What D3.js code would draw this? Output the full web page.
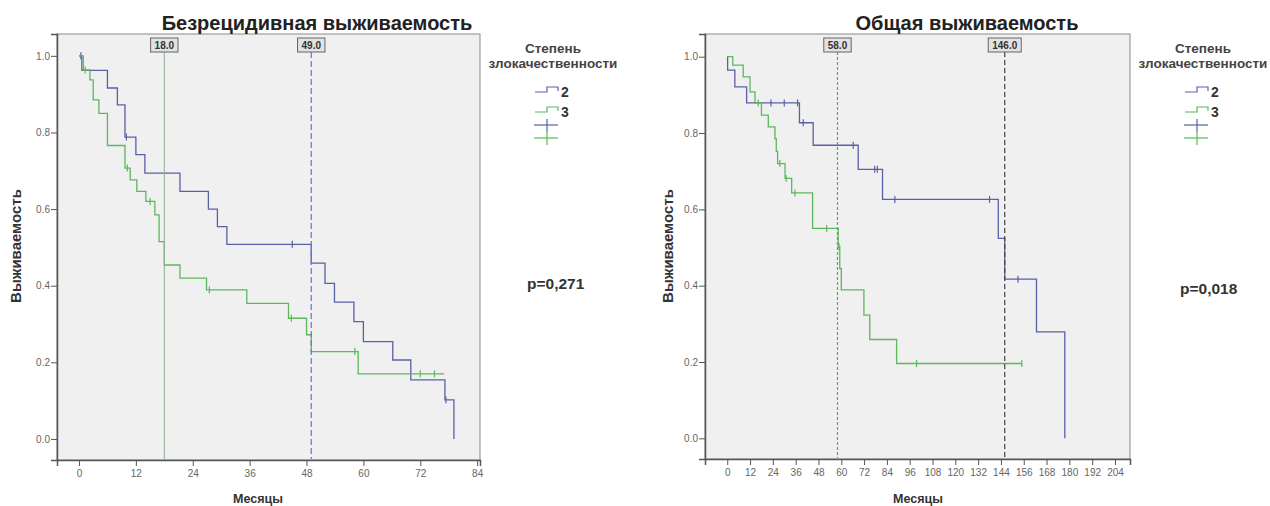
<!DOCTYPE html>
<html><head><meta charset="utf-8">
<script src="https://cdn.jsdelivr.net/npm/d3@7"></script>
<style>
html,body{margin:0;padding:0;background:#fff;}
svg{display:block;font-family:"Liberation Sans",Arial,sans-serif;}
</style></head>
<body><svg id="c" width="1270" height="506"></svg>
<script>
// ---------- DATA ----------
const titles = ["Безрецидивная выживаемость", "Общая выживаемость"];
const legendTitle = ["Степень", "злокачественности"];
const groups = ["2", "3"];
const pValues = ["p=0,271", "p=0,018"];
const xLabel = "Месяцы";
const yLabel = "Выживаемость";
const yTicks = [0, 0.2, 0.4, 0.6, 0.8, 1.0];
const xTicksRFS = [0, 12, 24, 36, 48, 60, 72, 84];
const xTicksOS = [0, 12, 24, 36, 48, 60, 72, 84, 96, 108, 120, 132, 144, 156, 168, 180, 192, 204];

// Recurrence-free survival, grade 2
const rfs2Times = [0, 0.6, 6, 8.1, 9.7, 12, 13.9, 21.3, 27.3, 29.2, 31.2, 49, 51.9, 53.9, 58, 60, 66.2, 70, 77.2, 79.1];
const rfs2Surv  = [1, 0.962, 0.916, 0.872, 0.788, 0.742, 0.694, 0.646, 0.600, 0.554, 0.508, 0.459, 0.406, 0.357, 0.306, 0.254, 0.206, 0.154, 0.102, 0];
const rfs2Censor = [0.4, 10, 45, 77.4];
const rfs2End = 79.1;
// Recurrence-free survival, grade 3
const rfs3Times = [0, 0.9, 2.3, 3, 4.2, 6, 9.7, 10.8, 12.2, 14.1, 16, 16.9, 18, 21.3, 26.9, 35.4, 44.2, 48, 49, 58.9];
const rfs3Surv  = [1, 0.963, 0.937, 0.885, 0.850, 0.766, 0.707, 0.676, 0.646, 0.620, 0.585, 0.515, 0.454, 0.420, 0.389, 0.354, 0.315, 0.272, 0.228, 0.170];
const rfs3Censor = [1.3, 10.2, 15, 27.5, 44.8, 58.2, 72, 75];
const rfs3End = 77;
// Overall survival, grade 2
const os2Times = [0, 0.2, 4, 10.2, 38, 45.2, 68.9, 81.7, 142.6, 146, 162.7, 177.6];
const os2Surv  = [1, 0.965, 0.921, 0.879, 0.827, 0.768, 0.705, 0.626, 0.524, 0.417, 0.279, 0];
const os2Censor = [23, 30, 37, 40, 66.3, 77.6, 79, 88.2, 138, 153];
const os2End = 177.6;
// Overall survival, grade 3
const os3Times = [0, 2.9, 8.4, 12, 14.6, 18, 21.6, 25.1, 25.8, 26.5, 30.4, 33.9, 44.9, 58.4, 59.2, 60, 71.9, 75, 89.1];
const os3Surv  = [1, 0.978, 0.947, 0.908, 0.879, 0.847, 0.816, 0.785, 0.752, 0.720, 0.681, 0.643, 0.550, 0.502, 0.445, 0.389, 0.323, 0.259, 0.196];
const os3Censor = [16.3, 27.7, 31, 35.6, 52.3, 58.8, 99.6, 155];
const os3End = 155;

const rfsMedians = [18, 49];
const osMedians = [58, 146];

// ---------- STYLE ----------
const colors = ["#5b5fa8", "#5cb85c"];
const svg = d3.select("#c");

function stepFn(times, surv, t) {
  let v = surv[0];
  for (let i = 0; i < times.length; i++) if (times[i] <= t) v = surv[i];
  return v;
}

function drawKM(cfg) {
  const x = d3.scaleLinear().domain(cfg.xDomain).range([cfg.x0, cfg.x1]);
  const y = d3.scaleLinear().domain(cfg.yDomain).range([cfg.y1, cfg.y0]);
  const g = svg.append("g");

  g.append("rect").attr("x", cfg.x0).attr("y", cfg.y0)
    .attr("width", cfg.x1 - cfg.x0).attr("height", cfg.y1 - cfg.y0)
    .attr("fill", "#f0f0f0").attr("stroke", "#8a8a8a").attr("stroke-width", 1);

  // axes
  const ya = g.append("g").attr("transform", `translate(${cfg.x0},0)`)
    .call(d3.axisLeft(y).tickValues(yTicks).tickFormat(d3.format(".1f")).tickSize(6).tickPadding(1));
  const xa = g.append("g").attr("transform", `translate(0,${cfg.y1})`)
    .call(d3.axisBottom(x).tickValues(cfg.xTicks).tickFormat(d3.format("d")).tickSize(6).tickPadding(4));
  [ya, xa].forEach(a => {
    a.select(".domain").attr("stroke", "#555").attr("stroke-width", 1.5);
    a.selectAll(".tick line").attr("stroke", "#555");
    a.selectAll(".tick text").attr("fill", "#666").attr("font-size", "10px")
      .attr("font-family", "'Liberation Sans',Arial,sans-serif");
  });

  // curves
  const line = d3.line().x(d => x(d[0])).y(d => y(d[1])).curve(d3.curveStepAfter);
  cfg.series.forEach((s, i) => {
    const pts = s.times.map((t, k) => [t, s.surv[k]]);
    if (s.end > s.times[s.times.length - 1]) pts.push([s.end, s.surv[s.surv.length - 1]]);
    g.append("path").attr("d", line(pts)).attr("fill", "none")
      .attr("stroke", colors[i]).attr("stroke-width", 1.3);
    g.selectAll(null).data(s.censor).enter().append("line")
      .attr("x1", d => x(d)).attr("x2", d => x(d))
      .attr("y1", d => y(stepFn(s.times, s.surv, d)) - 3.5)
      .attr("y2", d => y(stepFn(s.times, s.surv, d)) + 3.5)
      .attr("stroke", colors[i]).attr("stroke-width", 1.2);
  });

  // median reference lines
  cfg.medians.forEach((m, i) => {
    const st = cfg.medianStyles[i];
    const lbl = m.toFixed(1);
    const bw = lbl.length * 5.6 + 5;
    g.append("line").attr("x1", x(m)).attr("x2", x(m))
      .attr("y1", cfg.y0 + 18).attr("y2", cfg.y1 - 1)
      .attr("stroke", st.color).attr("stroke-width", st.w)
      .attr("stroke-dasharray", st.dash);
    g.append("rect").attr("x", x(m) - bw / 2).attr("y", cfg.y0 + 4)
      .attr("width", bw).attr("height", 14)
      .attr("fill", "#e2e2e2").attr("stroke", "#666").attr("stroke-width", 1);
    g.append("text").attr("x", x(m)).attr("y", cfg.y0 + 15)
      .attr("text-anchor", "middle").attr("font-size", "10px").attr("font-weight", "bold")
      .attr("fill", "#333").text(lbl);
  });

  // titles & labels
  g.append("text").attr("x", cfg.titleX).attr("y", 30).attr("text-anchor", "middle")
    .attr("font-size", "20px").attr("font-weight", "bold").attr("fill", "#222").text(cfg.title);
  g.append("text").attr("x", cfg.xLabelX).attr("y", 503).attr("text-anchor", "middle")
    .attr("font-size", "12.5px").attr("font-weight", "bold").attr("fill", "#333").text(xLabel);
  g.append("text").attr("transform", `translate(${cfg.yLabelX},246) rotate(-90)`)
    .attr("text-anchor", "middle").attr("font-size", "15px").attr("font-weight", "bold")
    .attr("fill", "#333").text(yLabel);
  g.append("text").attr("x", cfg.pX).attr("y", cfg.pY).attr("font-size", "15.5px")
    .attr("font-weight", "bold").attr("fill", "#333").text(cfg.p);

  // legend
  const L = cfg.legend;
  g.append("text").attr("x", L.cx).attr("y", 53).attr("text-anchor", "middle")
    .attr("font-size", "13.5px").attr("font-weight", "bold").attr("fill", "#444").text(legendTitle[0]);
  g.append("text").attr("x", L.cx).attr("y", 68).attr("text-anchor", "middle")
    .attr("font-size", "13.5px").attr("font-weight", "bold").attr("fill", "#444").text(legendTitle[1]);
  groups.forEach((gr, i) => {
    const yy = 92 + i * 20;
    const ix = L.ix;
    g.append("path")
      .attr("d", `M${ix},${yy} H${ix + 12} V${yy - 5} H${ix + 23} V${yy - 1}`)
      .attr("fill", "none").attr("stroke", colors[i]).attr("stroke-width", 1.2);
    g.append("text").attr("x", ix + 26).attr("y", yy + 5).attr("font-size", "14px")
      .attr("font-weight", "bold").attr("fill", "#333").text(gr);
    const cy = 125 + i * 13;
    g.append("line").attr("x1", ix - 1).attr("x2", ix + 23).attr("y1", cy).attr("y2", cy)
      .attr("stroke", colors[i]).attr("stroke-width", 1.2);
    g.append("line").attr("x1", ix + 12).attr("x2", ix + 12).attr("y1", cy - 6).attr("y2", cy + 7)
      .attr("stroke", colors[i]).attr("stroke-width", 1.2);
  });
}

drawKM({
  x0: 57, x1: 480, y0: 34, y1: 460,
  xDomain: [-4.64, 84.6], yDomain: [-0.055, 1.057], xTicks: xTicksRFS,
  series: [
    {times: rfs2Times, surv: rfs2Surv, censor: rfs2Censor, end: rfs2End},
    {times: rfs3Times, surv: rfs3Surv, censor: rfs3Censor, end: rfs3End}
  ],
  medians: rfsMedians,
  medianStyles: [{color: "#8fae8f", dash: null, w: 1}, {color: "#6e6ee0", dash: "6,3", w: 1.2}],
  title: titles[0], titleX: 317, xLabelX: 258, yLabelX: 21,
  p: pValues[0], pX: 527, pY: 289,
  legend: {cx: 553, ix: 535}
});

drawKM({
  x0: 705, x1: 1130, y0: 34, y1: 459,
  xDomain: [-11.7, 211.9], yDomain: [-0.0542, 1.0595], xTicks: xTicksOS,
  series: [
    {times: os2Times, surv: os2Surv, censor: os2Censor, end: os2End},
    {times: os3Times, surv: os3Surv, censor: os3Censor, end: os3End}
  ],
  medians: osMedians,
  medianStyles: [{color: "#4cb04c", dash: "3,2", w: 1.2}, {color: "#444", dash: "5,3", w: 1.2}],
  title: titles[1], titleX: 967, xLabelX: 918, yLabelX: 673,
  p: pValues[1], pX: 1180, pY: 294,
  legend: {cx: 1203, ix: 1185}
});
</script></body></html>
